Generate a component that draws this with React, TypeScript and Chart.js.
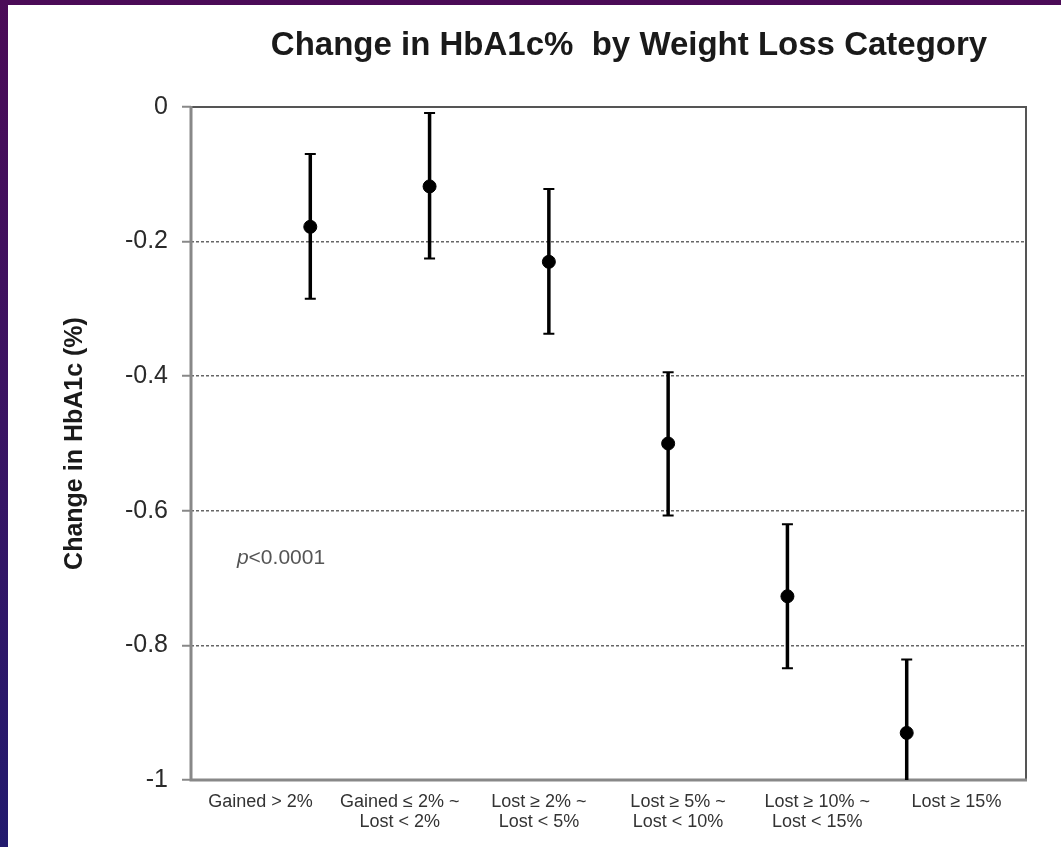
import React, { useEffect, useRef } from "react";
import { Chart, registerables } from "chart.js";

Chart.register(...registerables);

// ---- data ----
const categories: string[][] = [
  ["Gained > 2%"],
  ["Gained ≤ 2% ~", "Lost < 2%"],
  ["Lost ≥ 2% ~", "Lost < 5%"],
  ["Lost ≥ 5% ~", "Lost < 10%"],
  ["Lost ≥ 10% ~", "Lost < 15%"],
  ["Lost ≥ 15%"],
];
const positions = [1, 2, 3, 4, 5, 6];
const meanChange = [-0.178, -0.118, -0.23, -0.5, -0.727, -0.93];
const upperCI = [-0.07, -0.009, -0.122, -0.394, -0.62, -0.821];
const lowerCI = [-0.285, -0.225, -0.337, -0.607, -0.834, -1.039];
const yTicks = [0, -0.2, -0.4, -0.6, -0.8, -1];
const titleText = "Change in HbA1c%  by Weight Loss Category";
const yTitleText = "Change in HbA1c (%)";
const pItalic = "p";
const pRest = "<0.0001";
const pAnchor = { x: 0.385, y: -0.67 };

const FONT = "'Liberation Sans', Arial, Helvetica, sans-serif";
const W = 1053;
const H = 842;
const TITLE_CENTER = 621;

const titleShift = {
  id: "titleShift",
  afterLayout(chart: any) {
    const tb = chart.titleBlock;
    if (!tb) return;
    const dx = TITLE_CENTER - (tb.left + tb.right) / 2;
    tb.left += dx;
    tb.right += dx;
  },
};

const frameAndBars = {
  id: "frameAndBars",
  beforeDatasetsDraw(chart: any) {
    const { ctx, chartArea: a, scales } = chart;
    const x = scales.x;
    const y = scales.y;
    ctx.save();
    // frame
    ctx.lineCap = "butt";
    ctx.strokeStyle = "#555";
    ctx.lineWidth = 2;
    ctx.beginPath();
    ctx.moveTo(a.left, a.top);
    ctx.lineTo(a.right, a.top);
    ctx.lineTo(a.right, a.bottom);
    ctx.stroke();
    ctx.strokeStyle = "#888";
    ctx.lineWidth = 3;
    ctx.beginPath();
    ctx.moveTo(a.left, a.top - 1);
    ctx.lineTo(a.left, a.bottom);
    ctx.lineTo(a.right + 1, a.bottom);
    ctx.stroke();
    // error bars
    ctx.beginPath();
    ctx.rect(a.left, a.top, a.right - a.left, a.bottom - a.top);
    ctx.clip();
    ctx.strokeStyle = "#000";
    positions.forEach((p, i) => {
      const px = x.getPixelForValue(p);
      const pt = y.getPixelForValue(upperCI[i]);
      const pb = y.getPixelForValue(lowerCI[i]);
      ctx.lineWidth = 3.5;
      ctx.beginPath();
      ctx.moveTo(px, pt);
      ctx.lineTo(px, pb);
      ctx.stroke();
      ctx.lineWidth = 2;
      ctx.beginPath();
      ctx.moveTo(px - 5.5, pt);
      ctx.lineTo(px + 5.5, pt);
      ctx.moveTo(px - 5.5, pb);
      ctx.lineTo(px + 5.5, pb);
      ctx.stroke();
    });
    ctx.restore();
  },
  afterDatasetsDraw(chart: any) {
    const { ctx, scales } = chart;
    const px = scales.x.getPixelForValue(pAnchor.x);
    const py = scales.y.getPixelForValue(pAnchor.y);
    ctx.save();
    ctx.fillStyle = "#555";
    ctx.textBaseline = "middle";
    ctx.textAlign = "left";
    ctx.font = `italic 21px ${FONT}`;
    ctx.fillText(pItalic, px, py);
    const w = ctx.measureText(pItalic).width;
    ctx.font = `21px ${FONT}`;
    ctx.fillText(pRest, px + w, py);
    ctx.restore();
  },
};

export default function App() {
  const ref = useRef<HTMLCanvasElement | null>(null);
  useEffect(() => {
    if (!ref.current) return;
    const chart = new Chart(ref.current, {
      type: "scatter",
      data: {
        datasets: [
          {
            label: "Change in HbA1c",
            data: positions.map((p, i) => ({ x: p, y: meanChange[i] })),
            backgroundColor: "#000",
            borderColor: "#000",
            pointRadius: 6.5,
            pointHoverRadius: 6.5,
            clip: false as any,
          },
        ],
      },
      options: {
        responsive: false,
        animation: false,
        layout: { padding: { left: 0, right: 35, top: 0, bottom: 0 } },
        plugins: {
          legend: { display: false },
          tooltip: { enabled: false },
          title: {
            display: true,
            text: titleText,
            fullSize: false,
            color: "#1a1a1a",
            font: { family: FONT, size: 33, weight: "bold", lineHeight: 1.2 },
            padding: { top: 21, bottom: 41.4 },
          },
        },
        scales: {
          x: {
            type: "linear",
            min: 0,
            max: 7,
            display: false,
          },
          xLabels: {
            type: "category",
            labels: categories as any,
            position: "bottom",
            offset: true,
            grid: { display: false, drawTicks: false },
            border: { display: false },
            ticks: {
              color: "#333",
              padding: 12,
              maxRotation: 0,
              autoSkip: false,
              font: { family: FONT, size: 18, lineHeight: 1.1 },
            },
            afterFit: (s: any) => {
              s.height = H - 775;
            },
          },
          y: {
            min: -1,
            max: 0,
            afterBuildTicks: (s: any) => {
              s.ticks = yTicks.map((v) => ({ value: v }));
            },
            afterFit: (s: any) => {
              s.width = 183;
            },
            border: { display: false, dash: [3, 2] },
            grid: {
              color: (c: any) =>
                c.tick && (c.tick.value === 0 || c.tick.value === -1) ? "rgba(0,0,0,0)" : "#666",
              lineWidth: 1.5,
              tickColor: "#888",
              tickWidth: 2,
              tickLength: 9,
              tickBorderDash: [],
            } as any,
            ticks: {
              color: "#2a2a2a",
              padding: 14,
              font: { family: FONT, size: 25 },
              callback: (v: any) => String(v),
            },
            title: {
              display: true,
              text: yTitleText,
              color: "#1a1a1a",
              font: { family: FONT, size: 25, weight: "bold", lineHeight: 1.2 },
              padding: { top: 52, bottom: 0 },
            },
          },
        },
      } as any,
      plugins: [titleShift, frameAndBars],
    });
    return () => chart.destroy();
  }, []);

  return (
    <div
      style={{
        position: "fixed",
        left: 0,
        top: 0,
        width: 1061,
        height: 847,
        overflow: "hidden",
        background: "linear-gradient(180deg, #4b0b57 0%, #3a1463 50%, #221a6e 100%)",
      }}
    >
      <div style={{ position: "absolute", left: 8, top: 5, width: W, height: H, background: "#fff" }}>
        <canvas ref={ref} width={W} height={H} style={{ display: "block" }} />
      </div>
    </div>
  );
}
